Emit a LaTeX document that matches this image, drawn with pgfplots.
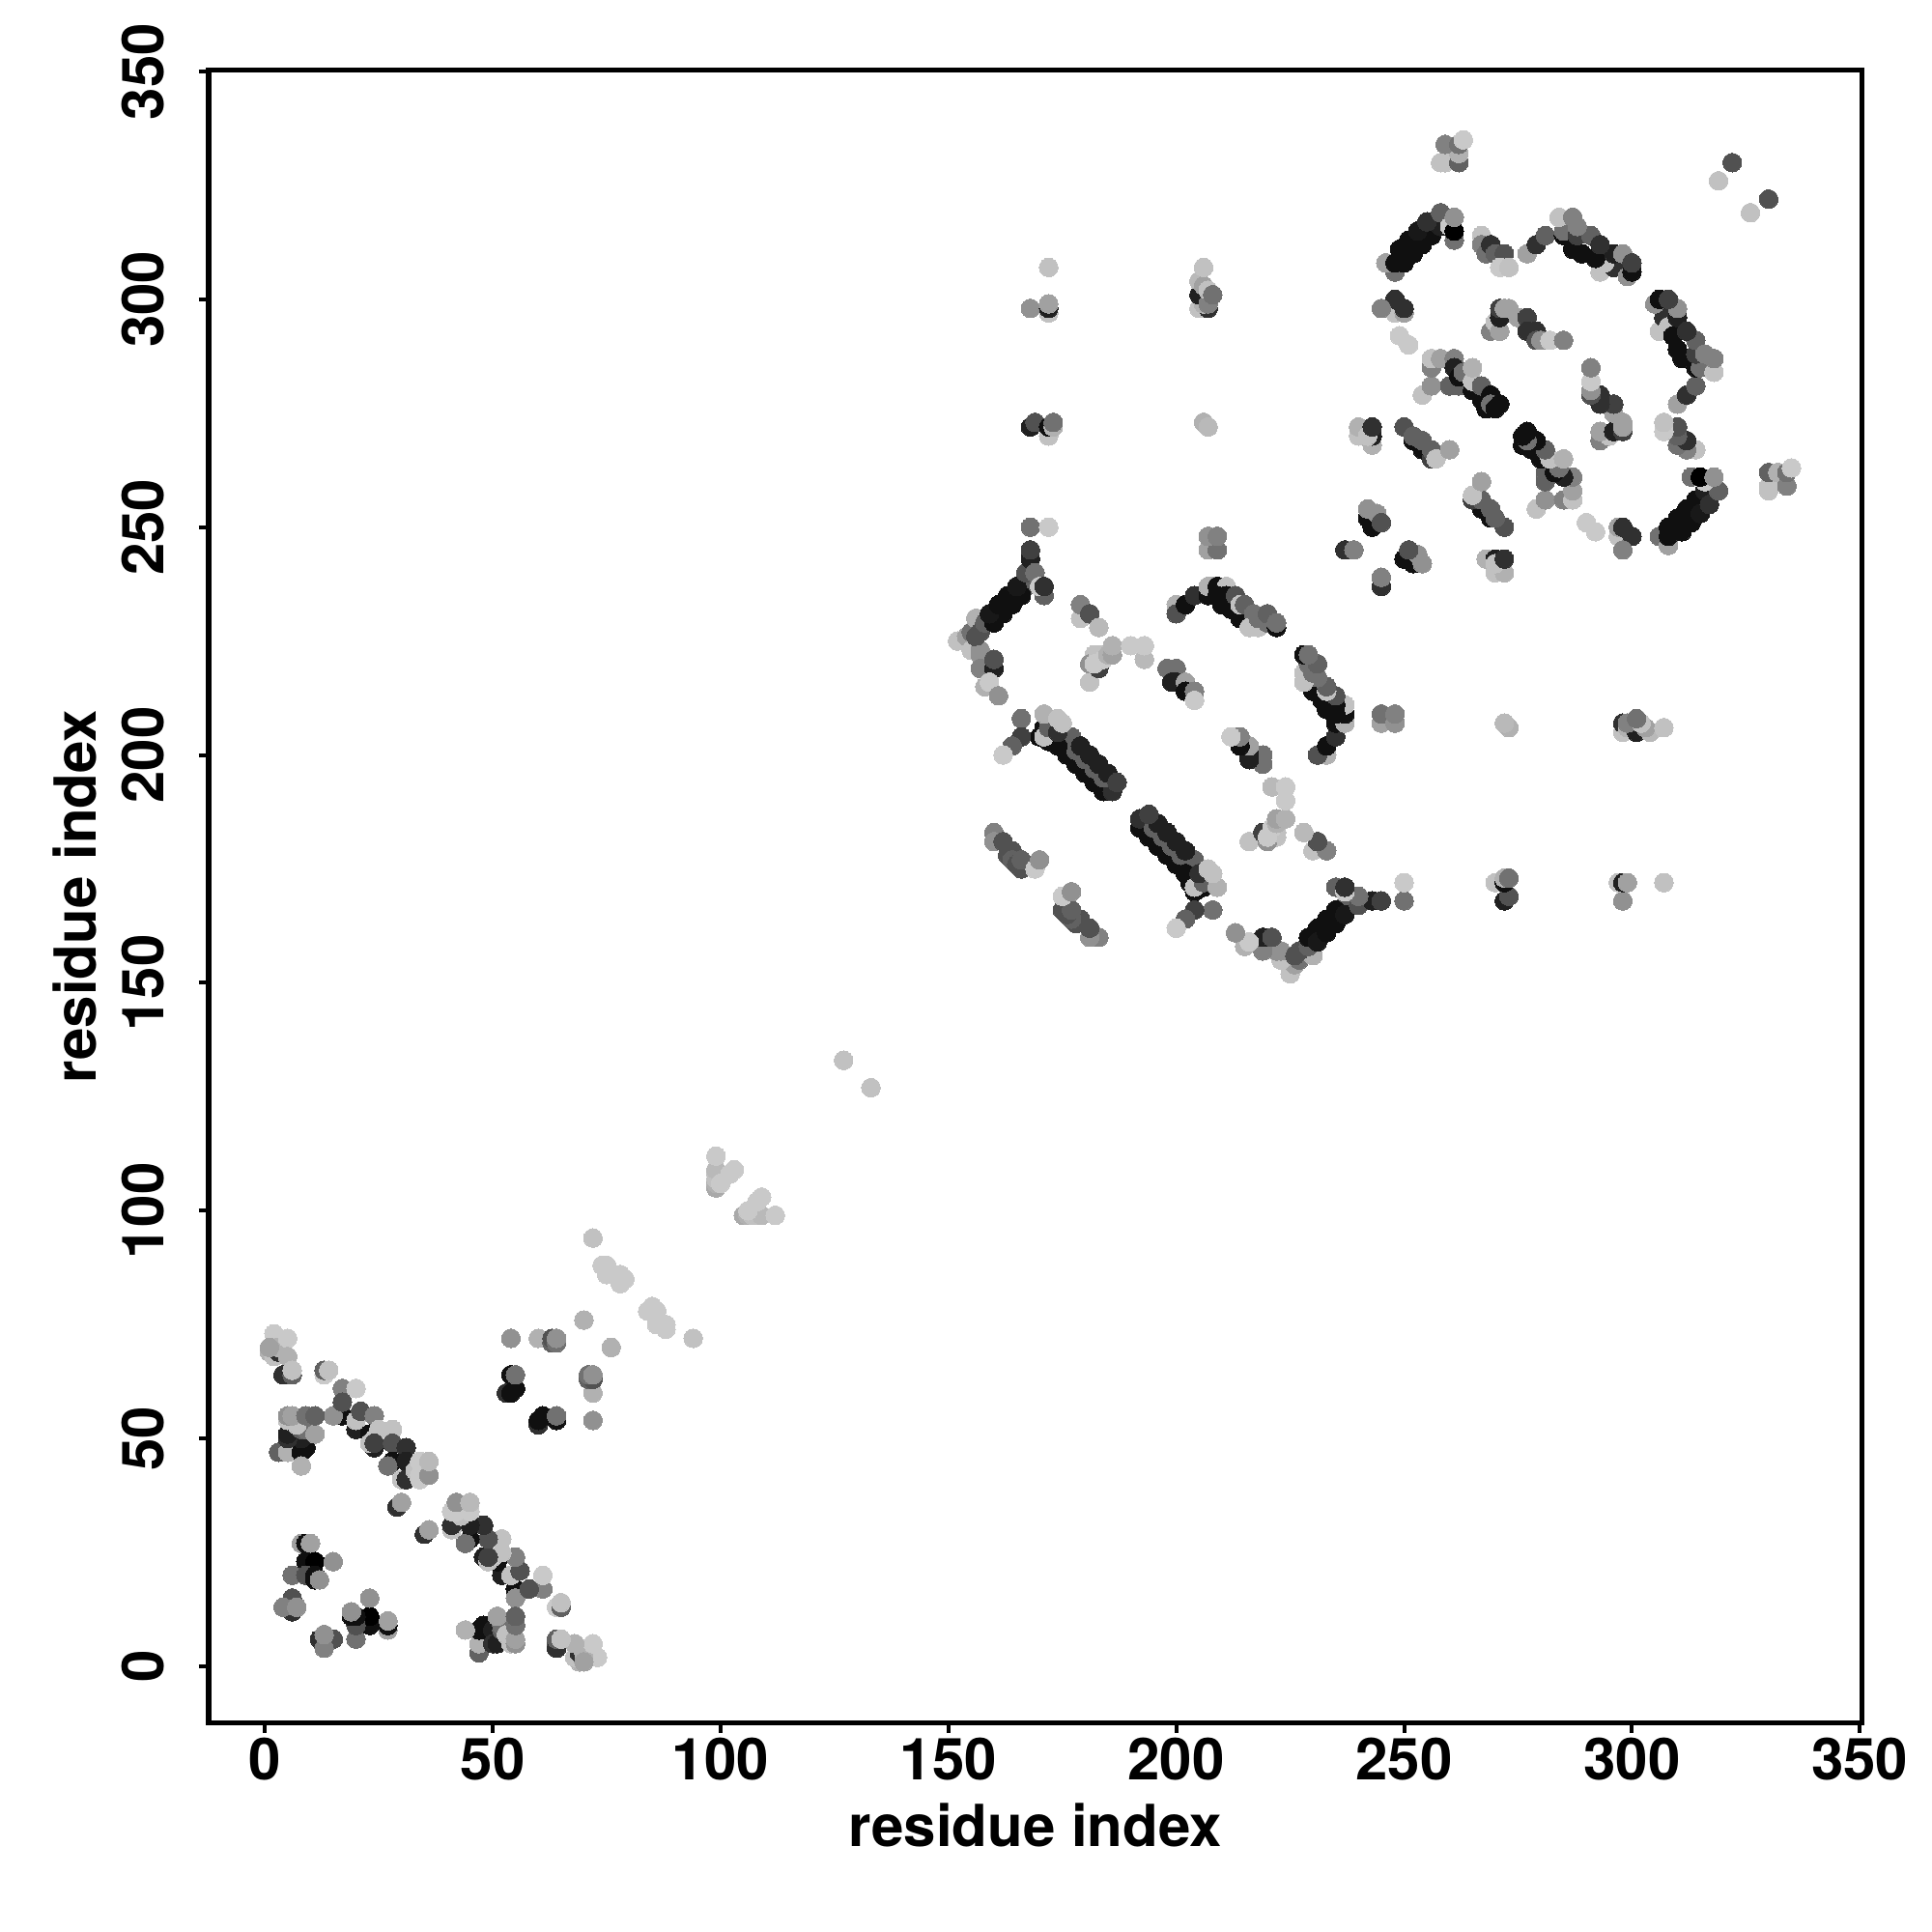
\documentclass[border=0pt]{standalone}
\usepackage{fontspec}
\setmainfont{TeX Gyre Heros}
\usepackage{pgfplots}
\usepackage{pgfplotstable}
\pgfplotsset{compat=1.18}
\pgfplotstableread[row sep=\\]{
a b g\\
1 69 176\\ 2 69 176\\ 2 68 192\\ 3 69 48\\ 2 73 200\\ 3 70 176\\ 1 70 160\\ 5 72 200\\ 5 68 176\\
5 64 80\\ 4 64 48\\ 6 64 96\\ 6 65 192\\
13 64 200\\ 13 65 96\\ 14 65 192\\
17 61 128\\ 20 61 200\\ 17 55 16\\ 15 55 144\\ 17 58 80\\ 20 52 32\\ 20 54 192\\ 21 56 80\\ 24 55 128\\
23 51 16\\ 24 50 200\\ 25 52 192\\ 28 52 192\\ 24 48 32\\ 23 49 192\\ 24 49 64\\ 28 49 80\\ 28 45 16\\ 27 44 112\\ 31 48 48\\ 31 45 32\\
30 41 192\\ 31 41 48\\ 33 42 48\\ 33 43 192\\ 34 41 200\\ 34 42 200\\ 34 45 200\\ 36 42 144\\ 36 45 184\\
29 35 48\\ 30 36 160\\
8 27 160\\ 9 27 16\\ 10 27 160\\ 9 23 16\\ 11 23 0\\ 15 23 144\\ 6 20 112\\ 9 20 80\\ 11 20 16\\ 11 19 16\\ 12 19 144\\
6 12 48\\ 6 15 80\\ 4 13 128\\ 7 13 144\\
3 47 96\\ 5 47 176\\ 8 47 16\\ 9 48 16\\ 7 50 16\\ 8 50 32\\ 5 50 48\\ 5 51 32\\ 8 52 96\\ 9 52 112\\ 11 51 160\\
8 44 176\\ 7 53 192\\ 5 54 192\\ 5 55 144\\ 6 55 160\\ 9 55 112\\ 11 55 96\\
54 72 144\\ 60 72 176\\ 63 71 96\\ 63 72 80\\ 64 71 112\\ 64 72 144\\
53 60 48\\ 54 60 16\\ 55 61 16\\ 54 64 16\\ 55 64 112\\
70 76 176\\ 72 94 192\\ 74 88 200\\ 75 88 200\\ 75 86 200\\ 78 84 200\\ 78 86 200\\ 79 85 200\\
99 105 168\\ 99 106 176\\ 99 107 192\\ 99 108 192\\ 99 109 184\\ 100 106 200\\ 102 108 200\\ 103 109 200\\ 99 112 200\\
127 133 192\\
152 225 192\\ 154 226 160\\ 155 227 112\\ 156 230 176\\ 157 227 80\\ 155 223 192\\ 157 223 144\\ 156 226 80\\ 158 221 192\\ 157 222 144\\ 157 219 128\\ 160 219 32\\ 160 221 80\\ 158 215 176\\ 159 216 200\\ 161 213 144\\
158 229 96\\ 161 231 96\\ 163 233 96\\ 165 235 96\\ 167 237 96\\
160 229 16\\ 162 231 16\\ 164 233 16\\ 166 235 16\\
159 231 24\\ 161 233 16\\ 163 235 16\\ 165 237 24\\
167 240 80\\ 168 243 32\\ 168 245 64\\ 169 240 112\\ 171 235 96\\ 170 237 200\\ 171 237 48\\ 168 250 112\\ 172 250 200\\
176 200 16\\ 178 198 16\\ 180 196 16\\ 182 194 16\\ 184 192 16\\ 186 192 48\\
178 201 96\\ 180 199 96\\ 182 197 96\\ 184 195 96\\
177 204 96\\ 179 202 32\\ 181 200 32\\ 183 198 32\\ 185 196 32\\ 187 194 64\\
171 204 16\\ 170 204 16\\ 172 203 16\\ 174 202 16\\ 171 206 16\\ 172 205 192\\ 171 204 192\\ 172 206 96\\ 171 209 176\\ 174 205 48\\ 174 208 192\\ 175 207 192\\ 166 208 112\\ 166 204 64\\ 164 202 96\\ 162 200 200\\
160 183 128\\ 160 181 144\\ 162 181 80\\ 163 178 80\\ 164 179 80\\ 164 177 96\\ 165 176 80\\ 166 175 80\\ 166 177 96\\ 169 175 200\\ 170 177 144\\
179 230 192\\ 179 233 128\\ 181 231 80\\ 183 228 184\\
181 216 192\\ 182 222 192\\ 181 220 144\\ 183 219 64\\ 183 222 192\\ 182 220 200\\ 184 221 200\\ 185 222 176\\ 186 222 160\\ 186 224 176\\
190 224 200\\ 193 221 184\\ 193 224 200\\
198 219 112\\ 200 219 112\\ 199 216 32\\ 200 216 32\\ 202 216 160\\ 202 214 16\\ 204 214 128\\ 204 212 200\\
200 233 176\\ 200 231 80\\ 202 233 16\\ 204 235 48\\
207 235 16\\ 207 237 176\\ 208 237 176\\ 209 237 16\\ 211 237 192\\ 209 235 16\\ 211 235 16\\ 210 233 16\\ 212 232 16\\ 214 230 16\\ 216 229 16\\ 213 235 80\\ 214 233 192\\ 215 233 96\\ 217 231 112\\ 216 228 192\\ 218 228 192\\ 218 230 112\\ 220 229 112\\ 222 228 16\\ 220 231 96\\ 222 229 112\\
207 245 160\\ 209 245 112\\ 207 248 144\\ 209 248 128\\
237 245 48\\ 239 245 128\\
248 306 112\\ 246 308 160\\
250 310 96\\ 252 312 96\\ 254 314 96\\ 256 316 96\\
248 308 16\\ 250 308 16\\ 252 310 16\\ 254 312 16\\ 256 314 16\\ 258 316 32\\
249 311 16\\ 251 313 16\\ 253 315 24\\ 255 317 48\\ 258 319 96\\
261 313 112\\ 260 316 200\\ 261 315 0\\ 261 318 144\\
267 314 192\\ 267 312 128\\ 268 310 112\\ 269 312 48\\ 270 310 96\\ 272 310 80\\ 271 307 200\\ 273 307 192\\
277 310 160\\ 279 312 48\\ 281 314 96\\
293 306 192\\ 296 307 48\\ 294 308 192\\ 289 310 16\\ 287 311 16\\ 292 309 16\\ 296 310 32\\ 285 314 16\\ 285 315 112\\ 284 318 192\\ 288 314 64\\ 291 314 96\\ 293 312 48\\ 287 318 128\\ 288 316 128\\ 298 310 144\\ 299 305 144\\ 300 306 16\\ 300 308 64\\
248 297 192\\ 250 297 160\\ 248 300 48\\ 245 298 128\\ 250 298 48\\ 249 292 200\\ 251 290 200\\
269 293 128\\ 270 295 192\\ 271 293 160\\ 271 296 32\\ 271 298 64\\ 272 298 160\\ 273 298 160\\ 275 296 160\\ 277 296 64\\ 277 293 48\\ 279 293 48\\ 279 291 80\\ 280 291 144\\ 282 291 200\\ 285 291 128\\
254 279 192\\ 256 281 144\\ 256 285 128\\ 256 287 192\\ 258 287 160\\ 260 281 96\\ 261 287 128\\ 262 281 96\\ 261 285 32\\ 262 283 16\\ 265 280 16\\ 267 278 16\\ 268 276 16\\ 263 284 112\\ 265 282 192\\ 265 285 176\\ 267 281 96\\ 269 279 16\\ 269 277 112\\ 270 276 16\\ 271 277 16\\
252 269 16\\ 254 267 16\\ 256 265 64\\ 250 272 80\\ 252 270 96\\ 254 269 96\\ 256 267 96\\ 257 265 192\\ 260 267 160\\
240 270 192\\ 240 272 176\\ 243 268 176\\ 243 270 32\\ 242 270 192\\ 243 272 48\\
242 252 16\\ 243 250 16\\ 242 254 144\\ 244 253 144\\ 245 251 80\\
258 330 192\\ 259 330 192\\ 262 330 96\\ 262 332 176\\ 259 334 128\\ 262 334 112\\ 263 335 200\\
319 326 192\\ 322 330 80\\
168 272 32\\ 169 273 80\\ 172 270 192\\ 172 272 16\\ 173 272 176\\ 173 273 112\\ 206 273 176\\ 207 272 184\\
168 298 144\\ 172 297 192\\ 172 298 32\\ 172 299 160\\ 172 307 192\\
205 298 192\\ 207 298 48\\ 206 299 176\\ 205 301 32\\ 205 304 184\\ 206 303 160\\ 207 299 128\\ 207 302 192\\ 208 301 112\\ 206 307 192\\
}\dots
\begin{document}
\begin{tikzpicture}
\begin{axis}[
  at={(0,0)}, anchor=south west,
  scale only axis, width=427.9pt, height=427.75pt,
  xmin=-12.34, xmax=350.5, ymin=-12.4, ymax=350.3,
  xtick={0,50,...,350}, ytick={0,50,...,350},
  xtick pos=bottom, ytick pos=left, tick align=outside,
  major tick length=2.6pt,
  axis line style={line width=1.4pt, line cap=rect},
  tick style={line width=1pt, black},
  /pgf/number format/assume math mode=true,
  /pgf/number format/set thousands separator={},
  tick label style={font=\bfseries\fontsize{15}{15}\selectfont},
  xticklabel style={anchor=north, inner sep=0pt, yshift=-1pt},
  yticklabel style={rotate=90, anchor=south, inner sep=0pt, yshift=8.6pt},
  every axis x label/.style={at={(axis description cs:0.5,0)}, anchor=base, yshift=-31.9pt, font=\bfseries\fontsize{15}{15}\selectfont},
  every axis y label/.style={at={(axis description cs:0,0.5)}, rotate=90, anchor=base, yshift=29.1pt, font=\bfseries\fontsize{15}{15}\selectfont},
  xlabel={residue index}, ylabel={residue index},
  colormap={bw}{gray(0cm)=(0); gray(1cm)=(1)},
  point meta min=0, point meta max=255,
  scatter/use mapped color={draw=mapped color, fill=mapped color},
]
\addplot[scatter, only marks, mark=*, mark size=2.42pt, mark options={line width=0pt}, scatter src=explicit] table[x=a, y=b, meta=g] {\dots};
\addplot[scatter, only marks, mark=*, mark size=2.42pt, mark options={line width=0pt}, scatter src=explicit] table[x=b, y=a, meta=g] {\dots};
\end{axis}
\path[use as bounding box] (-54pt,-54.1pt) rectangle (446pt,445.9pt);
\end{tikzpicture}
\end{document}
